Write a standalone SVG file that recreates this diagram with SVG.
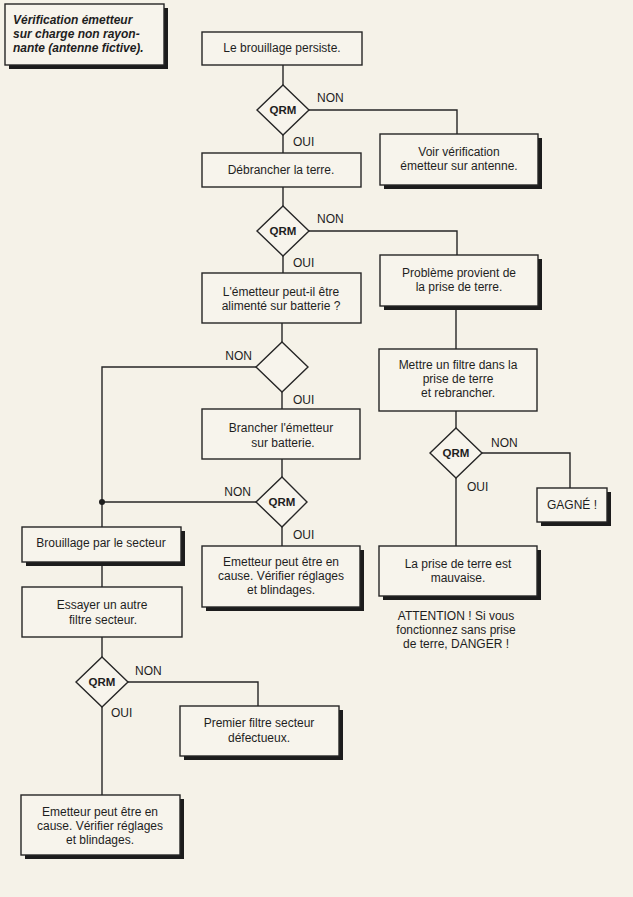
<svg xmlns="http://www.w3.org/2000/svg" width="633" height="897" viewBox="0 0 633 897">
<style>
.box{fill:#f7f4ec;stroke:#262626;stroke-width:1.4}
.sh{fill:#1c1c1c}
.dia{fill:#f7f4ec;stroke:#262626;stroke-width:1.4}
.ln{fill:none;stroke:#262626;stroke-width:1.4}
text{font-family:"Liberation Sans",Arial,sans-serif;font-size:12px;fill:#1e1e1e}
.c{text-anchor:middle}
.q{font-weight:bold;text-anchor:middle;font-size:11.5px}
.t{font-weight:bold;font-style:italic;font-size:12px}
</style>
<rect x="0" y="0" width="633" height="897" fill="#f5f2e8"/>

<g id="connectors">
<polyline class="ln" points="283,65 283,85"/>
<polyline class="ln" points="283,135 283,153"/>
<polyline class="ln" points="309,110 457,110 457,134"/>
<polyline class="ln" points="283,187 283,206"/>
<polyline class="ln" points="283,256 283,273"/>
<polyline class="ln" points="309,231 457,231 457,255"/>
<polyline class="ln" points="456,306 456,349"/>
<polyline class="ln" points="456,411 456,428"/>
<polyline class="ln" points="482,453 570,453 570,488"/>
<polyline class="ln" points="456,478 456,546"/>
<polyline class="ln" points="282,323 282,342"/>
<polyline class="ln" points="282,392 282,409"/>
<polyline class="ln" points="256,367 102,367 102,527"/>
<polyline class="ln" points="282,459 282,477"/>
<polyline class="ln" points="282,527 282,546"/>
<polyline class="ln" points="256,502 102,502"/>
<circle cx="102" cy="502" r="3" fill="#1e1e1e"/>
<polyline class="ln" points="102,562 102,587"/>
<polyline class="ln" points="102,637 102,657"/>
<polyline class="ln" points="128,682 258,682 258,706"/>
<polyline class="ln" points="102,707 102,795"/>
<text x="317" y="102">NON</text>
<text x="293" y="146">OUI</text>
<text x="317" y="223">NON</text>
<text x="293" y="267">OUI</text>
<text x="252" y="360" text-anchor="end">NON</text>
<text x="293" y="404">OUI</text>
<text x="251" y="496" text-anchor="end">NON</text>
<text x="293" y="539">OUI</text>
<text x="491" y="447">NON</text>
<text x="467" y="491">OUI</text>
<text x="135" y="675">NON</text>
<text x="111" y="717">OUI</text>
</g>

<g id="title">
<rect class="sh" x="9" y="8" width="159" height="61"/>
<rect class="box" x="5" y="4" width="159" height="61"/>
<text class="t" x="13" y="24">Vérification émetteur</text>
<text class="t" x="13" y="38">sur charge non rayon-</text>
<text class="t" x="13" y="52">nante (antenne fictive).</text>
</g>

<g id="n1">
<rect class="box" x="202" y="32" width="160" height="33"/>
<text class="c" x="282" y="52">Le brouillage persiste.</text>
</g>

<g id="d1">
<polygon class="dia" points="283,85 309,110 283,135 257,110"/>
<text class="q" x="283" y="114">QRM</text>
</g>

<g id="n2">
<rect class="box" x="202" y="153" width="159" height="34"/>
<text class="c" x="281" y="174">Débrancher la terre.</text>
</g>

<g id="nvoir">
<rect class="sh" x="384" y="138" width="158" height="51"/>
<rect class="box" x="380" y="134" width="158" height="51"/>
<text class="c" x="459" y="156">Voir vérification</text>
<text class="c" x="459" y="170">émetteur sur antenne.</text>
</g>

<g id="d2">
<polygon class="dia" points="283,206 309,231 283,256 257,231"/>
<text class="q" x="283" y="235">QRM</text>
</g>

<g id="nprob">
<rect class="sh" x="384" y="259" width="158" height="51"/>
<rect class="box" x="380" y="255" width="158" height="51"/>
<text class="c" x="459" y="277">Problème provient de</text>
<text class="c" x="459" y="291">la prise de terre.</text>
</g>

<g id="nemet">
<rect class="box" x="202" y="273" width="159" height="50"/>
<text class="c" x="281" y="296">L'émetteur peut-il être</text>
<text class="c" x="281" y="310">alimenté sur batterie ?</text>
</g>

<g id="d3">
<polygon class="dia" points="282,342 308,367 282,392 256,367"/>
</g>

<g id="nbranch">
<rect class="box" x="202" y="409" width="158" height="50"/>
<text class="c" x="281" y="432">Brancher l'émetteur</text>
<text class="c" x="283" y="447">sur batterie.</text>
</g>

<g id="d4">
<polygon class="dia" points="282,477 307,502 282,527 256,502"/>
<text class="q" x="282" y="506">QRM</text>
</g>

<g id="nemet2">
<rect class="sh" x="206" y="550" width="158" height="61"/>
<rect class="box" x="202" y="546" width="158" height="61"/>
<text class="c" x="281" y="566">Emetteur peut être en</text>
<text class="c" x="281" y="580">cause. Vérifier réglages</text>
<text class="c" x="281" y="594">et blindages.</text>
</g>

<g id="nmettre">
<rect class="box" x="379" y="349" width="158" height="62"/>
<text class="c" x="458" y="369">Mettre un filtre dans la</text>
<text class="c" x="458" y="383">prise de terre</text>
<text class="c" x="458" y="397">et rebrancher.</text>
</g>

<g id="d6">
<polygon class="dia" points="456,428 482,453 456,478 430,453"/>
<text class="q" x="456" y="457">QRM</text>
</g>

<g id="ngagne">
<rect class="sh" x="541" y="492" width="70" height="34"/>
<rect class="box" x="537" y="488" width="70" height="34"/>
<text class="c" x="572" y="509">GAGNÉ !</text>
</g>

<g id="nprise">
<rect class="sh" x="383" y="550" width="158" height="50"/>
<rect class="box" x="379" y="546" width="158" height="50"/>
<text class="c" x="458" y="568">La prise de terre est</text>
<text class="c" x="458" y="582">mauvaise.</text>
</g>

<g id="attention">
<text class="c" x="456" y="620">ATTENTION ! Si vous</text>
<text class="c" x="456" y="634">fonctionnez sans prise</text>
<text class="c" x="456" y="648">de terre, DANGER !</text>
</g>

<g id="nbrouil">
<rect class="sh" x="26" y="531" width="159" height="35"/>
<rect class="box" x="22" y="527" width="159" height="35"/>
<text class="c" x="101" y="547">Brouillage par le secteur</text>
</g>

<g id="nessayer">
<rect class="box" x="22" y="587" width="160" height="50"/>
<text class="c" x="102" y="609">Essayer un autre</text>
<text class="c" x="103" y="624">filtre secteur.</text>
</g>

<g id="d5">
<polygon class="dia" points="102,657 128,682 102,707 76,682"/>
<text class="q" x="102" y="686">QRM</text>
</g>

<g id="npremier">
<rect class="sh" x="184" y="710" width="159" height="50"/>
<rect class="box" x="180" y="706" width="159" height="50"/>
<text class="c" x="259" y="727">Premier filtre secteur</text>
<text class="c" x="259" y="742">défectueux.</text>
</g>

<g id="nemet3">
<rect class="sh" x="25" y="799" width="159" height="60"/>
<rect class="box" x="21" y="795" width="159" height="60"/>
<text class="c" x="100" y="816">Emetteur peut être en</text>
<text class="c" x="100" y="830">cause. Vérifier réglages</text>
<text class="c" x="100" y="844">et blindages.</text>
</g>
</svg>
